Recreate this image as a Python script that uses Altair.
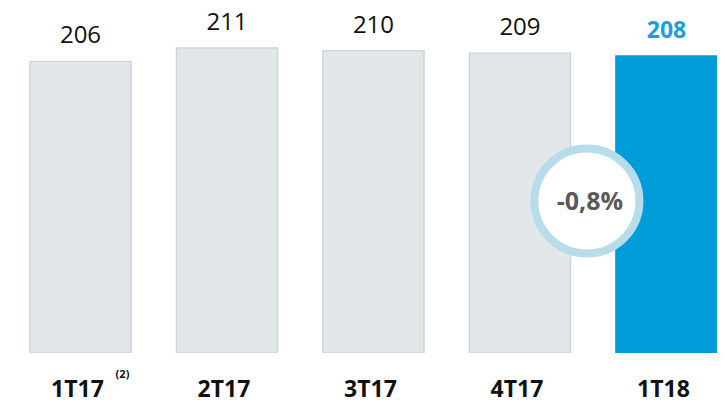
import altair as alt
import pandas as pd

categories = ["1T17", "2T17", "3T17", "4T17", "1T18"]
values = [206, 211, 210, 209, 208]
highlight = [False, False, False, False, True]

# change badge between 4T17 (index 3) and 1T18 (index 4)
change_label = ["-0,8%"]
change_pos = [3.457]
change_level = [154.3]

note_label = ["(2)"]
note_pos = [0]
note_level = [88.7]

cat_label_level = 81.7

df = pd.DataFrame({"idx": list(range(len(categories))), "cat": categories,
                   "val": values, "hl": highlight})
circ = pd.DataFrame({"pos": change_pos, "lvl": change_level, "txt": change_label})
note = pd.DataFrame({"pos": note_pos, "lvl": note_level, "txt": note_label})

half_bar = 0.345
xq = alt.Scale(domain=[-0.4949, 4.345], nice=False, zero=False)
ys = alt.Scale(domain=[98, 225.8], zero=False, nice=False)

X = alt.X("lo:Q", scale=xq, title=None, axis=None)
Y = alt.Y("val:Q", scale=ys, axis=None)

bars = alt.Chart(df).transform_calculate(
    lo=f"datum.idx - {half_bar}", hi=f"datum.idx + {half_bar}"
).mark_rect(strokeWidth=1.5, clip=True).encode(
    x=X, x2="hi:Q", y=Y, y2=alt.datum(98),
    fill=alt.condition("datum.hl", alt.value("#009bd9"), alt.value("#e2e7ea")),
    stroke=alt.condition("datum.hl", alt.value("#009bd9"), alt.value("#cdd6db")),
)

Xi = alt.X("idx:Q", scale=xq, axis=None)

labels = alt.Chart(df).transform_filter("!datum.hl").mark_text(
    font="Open Sans", fontSize=24, baseline="alphabetic", dy=-18, color="#111111").encode(
    x=Xi, y=Y, text="val:Q",
)

labels_hl = alt.Chart(df).transform_filter("datum.hl").mark_text(
    font="Open Sans", fontSize=23, fontWeight="bold", baseline="alphabetic", dy=-18,
    color="#1a9fdb").encode(
    x=Xi, y=Y, text="val:Q",
)

cat_labels = alt.Chart(df).transform_calculate(lvl=f"{cat_label_level}").mark_text(
    font="Open Sans", fontSize=23, fontWeight="bold", baseline="alphabetic", dx=-3,
    color="#111111").encode(
    x=Xi, y=alt.Y("lvl:Q", scale=ys, axis=None), text="cat:N",
)

note_text = alt.Chart(note).mark_text(font="Open Sans", fontSize=11, fontWeight="bold",
                                      color="#111111", baseline="alphabetic", dx=42).encode(
    x=alt.X("pos:Q", scale=xq, axis=None),
    y=alt.Y("lvl:Q", scale=ys, axis=None),
    text="txt:N",
)

ring = alt.Chart(circ).mark_point(shape="circle", filled=False, fill="white", fillOpacity=1,
                                  stroke="#b6dde9", strokeWidth=8, size=11025, opacity=1).encode(
    x=alt.X("pos:Q", scale=xq, axis=None),
    y=alt.Y("lvl:Q", scale=ys, axis=None),
)

ring_text = alt.Chart(circ).mark_text(font="Open Sans", fontSize=25, fontWeight="bold",
                                      color="#595959", baseline="middle", dx=3, dy=1).encode(
    x=alt.X("pos:Q", scale=xq, axis=None),
    y=alt.Y("lvl:Q", scale=ys, axis=None),
    text="txt:N",
)

chart = alt.layer(bars, labels, labels_hl, cat_labels, note_text, ring, ring_text).properties(
    width=709, height=345,
    padding={"left": 0, "top": 0, "right": 0, "bottom": 0},
).configure(background="white").configure_view(stroke=None)

chart.save("out.html", embed_options={"renderer": "svg", "actions": False})
